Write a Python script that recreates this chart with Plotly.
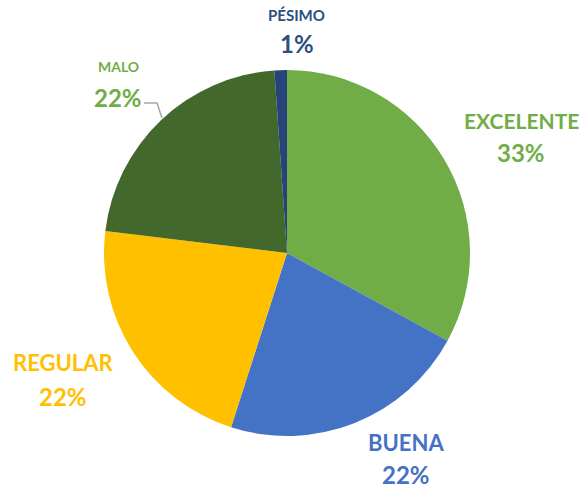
import plotly.graph_objects as go

categories = ["EXCELENTE", "BUENA", "REGULAR", "MALO", "PÉSIMO"]
values = [30, 20, 20, 20, 1]
slice_colors = ["#70AD47", "#4472C4", "#FFC000", "#43682B", "#264478"]
label_colors = ["#70AD47", "#4472C4", "#FFC000", "#70AD47", "#2B5080"]

W, H = 587, 489
# label centers in pixels (x, name line y, percent line y, name font size)
label_pos = {
    "EXCELENTE": (521, 120, 153, 21),
    "BUENA": (406, 442, 474, 22),
    "REGULAR": (63, 362, 396, 22),
    "MALO": (118, 67, 97, 14),
    "PÉSIMO": (297, 15, 44, 15),
}

fig = go.Figure(go.Pie(
    labels=categories,
    values=values,
    marker=dict(colors=slice_colors, line=dict(width=0)),
    sort=False,
    direction="clockwise",
    rotation=0,
    textinfo="none",
    hoverinfo="label+percent",
    showlegend=False,
    domain=dict(x=[(287 - 183) / W, (287 + 183) / W], y=[(489 - 436) / H, (489 - 70) / H]),
))

total = sum(values)
font_family = "Lato, Carlito, Arial, sans-serif"
for cat, val, col in zip(categories, values, label_colors):
    x, y1, y2, fs = label_pos[cat]
    pct = round(100 * val / total)
    fig.add_annotation(x=x / W, y=1 - y1 / H, xref="paper", yref="paper",
                       xanchor="center", yanchor="middle", borderpad=0,
                       text=f"<b>{cat}</b>", showarrow=False,
                       font=dict(family=font_family, size=fs, color=col))
    fig.add_annotation(x=x / W, y=1 - y2 / H, xref="paper", yref="paper",
                       xanchor="center", yanchor="middle", borderpad=0,
                       text=f"<b>{pct}%</b>", showarrow=False,
                       font=dict(family=font_family, size=24, color=col))

# leader line for MALO
fig.add_shape(type="path", xref="paper", yref="paper",
              path=f"M {144/W} {1-103/H} L {157/W} {1-103/H} L {162/W} {1-118/H}",
              line=dict(color="#A6A6A6", width=1.5))

fig.update_layout(
    width=W, height=H,
    margin=dict(l=0, r=0, t=0, b=0),
    paper_bgcolor="white",
    plot_bgcolor="white",
)

fig.write_html("out.html")
